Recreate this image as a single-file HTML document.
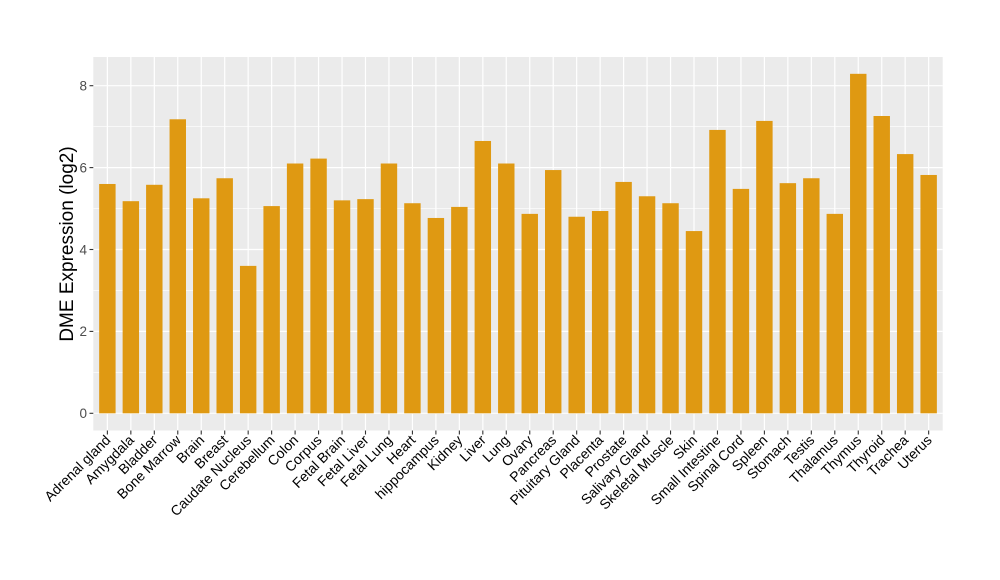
<!DOCTYPE html>
<html><head><meta charset="utf-8"><style>
html,body{margin:0;padding:0;background:#fff;}
svg{display:block;font-family:"Liberation Sans",Arial,sans-serif;}
</style></head><body>
<svg width="1000" height="580" viewBox="0 0 1000 580" xmlns="http://www.w3.org/2000/svg">
<rect x="0" y="0" width="1000" height="580" fill="#fff"/>
<rect x="93.3" y="57" width="849.4" height="373.5" fill="#ebebeb"/>
<g id="grid"></g>
<g id="bars"></g>
<g id="axes"></g>
<text transform="translate(73,244) rotate(-90)" text-anchor="middle" font-size="19" fill="#000">DME Expression (log2)</text>
<script>
var names=["Adrenal gland","Amygdala","Bladder","Bone Marrow","Brain","Breast","Caudate Nucleus","Cerebellum","Colon","Corpus","Fetal Brain","Fetal Liver","Fetal Lung","Heart","hippocampus","Kidney","Liver","Lung","Ovary","Pancreas","Pituitary Gland","Placenta","Prostate","Salivary Gland","Skeletal Muscle","Skin","Small Intestine","Spinal Cord","Spleen","Stomach","Testis","Thalamus","Thymus","Thyroid","Trachea","Uterus"];
var vals=[5.6,5.18,5.58,7.18,5.25,5.74,3.6,5.06,6.1,6.22,5.2,5.23,6.1,5.13,4.77,5.04,6.65,6.1,4.87,5.94,4.8,4.94,5.65,5.3,5.13,4.45,6.92,5.48,7.14,5.62,5.74,4.87,8.29,7.26,6.33,5.82];
var NS="http://www.w3.org/2000/svg";
function el(p,t,a,txt){var e=document.createElementNS(NS,t);for(var k in a)e.setAttribute(k,a[k]);if(txt!=null)e.textContent=txt;p.appendChild(e);return e;}
var g=document.getElementById("grid"),b=document.getElementById("bars"),ax=document.getElementById("axes");
var y0=413.3,s=40.95,L=93.3,R=942.7,bw=23.465;
function Y(v){return y0-v*s;}
for(var v=1;v<9;v+=2)el(g,"line",{x1:L,x2:R,y1:Y(v),y2:Y(v),stroke:"#fff","stroke-width":0.6});
for(var v=0;v<=8;v+=2){el(g,"line",{x1:L,x2:R,y1:Y(v),y2:Y(v),stroke:"#fff","stroke-width":1.2});
el(ax,"line",{x1:89.5,x2:93.3,y1:Y(v),y2:Y(v),stroke:"#333","stroke-width":1.1});
el(ax,"text",{x:87,y:Y(v)+4.8,"text-anchor":"end","font-size":13.5,fill:"#4d4d4d"},String(v));}
for(var i=0;i<36;i++){var c=L+bw*(0.6+i);
el(g,"line",{x1:c,x2:c,y1:57,y2:430.5,stroke:"#fff","stroke-width":1.2});
var w=bw*0.7;
el(b,"rect",{x:c-w/2,y:Y(vals[i]),width:w,height:vals[i]*s,fill:"#df9912"});
el(ax,"line",{x1:c,x2:c,y1:430.5,y2:434.5,stroke:"#333","stroke-width":1.1});
el(ax,"text",{transform:"translate("+(c+4)+",441) rotate(-45)","text-anchor":"end","font-size":14,fill:"#000"},names[i]);}
</script>
</svg>
</body></html>
